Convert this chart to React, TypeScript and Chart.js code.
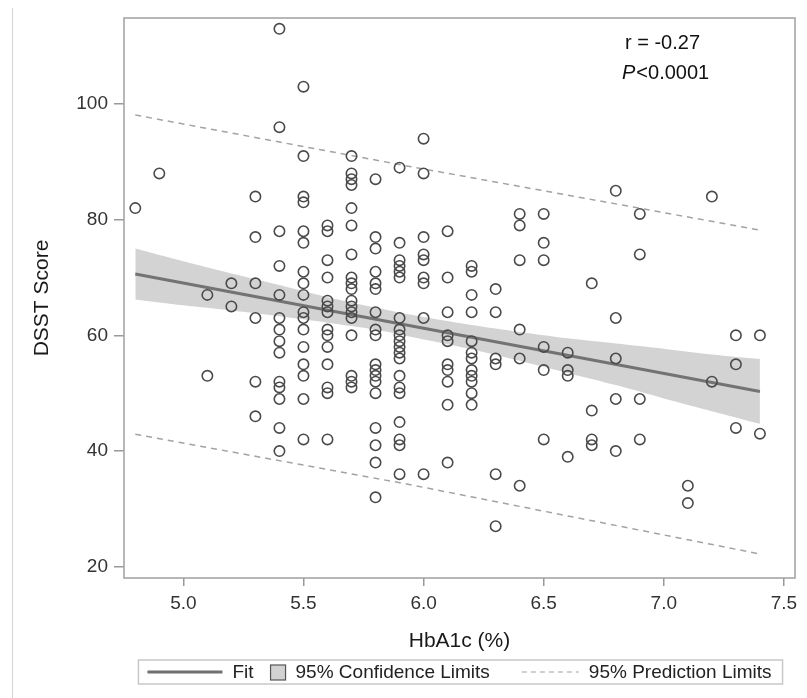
import React, { useEffect, useRef } from "react";
import { Chart, registerables } from "chart.js";

Chart.register(...registerables);

// ---- Data ----
const HBA1C_LEVELS = [4.8, 4.9, 5.1, 5.2, 5.3, 5.4, 5.5, 5.6, 5.7, 5.8, 5.9, 6.0, 6.1, 6.2, 6.3, 6.4, 6.5, 6.6, 6.7, 6.8, 6.9, 7.1, 7.2, 7.3, 7.4];
const DSST_SCORES_BY_LEVEL = [
  [82],
  [88],
  [67, 53],
  [69, 65],
  [84, 77, 69, 63, 52, 46],
  [113, 96, 78, 72, 67, 63, 61, 59, 57, 52, 51, 49, 44, 40],
  [103, 91, 84, 83, 78, 76, 71, 69, 67, 64, 63, 61, 58, 55, 53, 49, 42],
  [79, 78, 73, 70, 66, 65, 64, 61, 60, 58, 55, 51, 50, 42],
  [91, 88, 87, 86, 82, 79, 74, 70, 69, 68, 66, 65, 64, 63, 60, 53, 52, 51],
  [87, 77, 75, 71, 69, 68, 64, 61, 60, 55, 54, 53, 52, 50, 44, 41, 38, 32],
  [89, 76, 73, 72, 71, 70, 63, 61, 60, 59, 58, 57, 56, 53, 51, 50, 45, 42, 41, 36],
  [94, 88, 77, 74, 73, 70, 69, 63, 36],
  [78, 70, 64, 60, 59, 55, 54, 52, 48, 38],
  [72, 71, 67, 64, 59, 57, 56, 54, 53, 52, 50, 48],
  [68, 64, 56, 55, 36, 27],
  [81, 79, 73, 61, 56, 34],
  [81, 76, 73, 58, 54, 42],
  [57, 54, 53, 39],
  [69, 47, 42, 41],
  [85, 63, 56, 49, 40],
  [81, 74, 49, 42],
  [34, 31],
  [84, 52],
  [60, 55, 44],
  [60, 43],
];

const FIT_X = [4.8, 7.4];
const FIT_Y = [70.6, 50.3];

const CI_X = [4.8, 5.0, 5.2, 5.4, 5.6, 5.8, 5.93, 6.2, 6.4, 6.6, 6.8, 7.0, 7.2, 7.4];
const CI_UPPER = [75.0, 72.8, 70.7, 68.7, 66.6, 64.8, 63.7, 61.8, 60.6, 59.5, 58.6, 57.7, 56.7, 55.9];
const CI_LOWER = [66.2, 65.2, 64.3, 63.3, 62.2, 61.0, 59.9, 57.6, 55.6, 53.5, 51.4, 49.1, 46.9, 44.7];

const PI_X = [4.8, 5.93, 7.4];
const PI_UPPER = [98.1, 89.3, 78.2];
const PI_LOWER = [42.9, 34.3, 22.2];

const X_TICKS = [5.0, 5.5, 6.0, 6.5, 7.0, 7.5];
const Y_TICKS = [20, 40, 60, 80, 100];

const X_TITLE = "HbA1c (%)";
const Y_TITLE = "DSST Score";
const STAT_R = "r = -0.27";
const STAT_P_LETTER = "P";
const STAT_P_REST = "<0.0001";
const LEGEND_FIT = "Fit";
const LEGEND_CI = "95% Confidence Limits";
const LEGEND_PI = "95% Prediction Limits";

const FONT = '"Liberation Sans", Arial, Helvetica, sans-serif';

const pairs = (xs: number[], ys: number[]) => xs.map((x, i) => ({ x, y: ys[i] }));

const scatterPoints = HBA1C_LEVELS.flatMap((x, i) =>
  DSST_SCORES_BY_LEVEL[i].map((y) => ({ x, y }))
);

const framePlugin = {
  id: "frame",
  afterDraw(chart: any) {
    const { ctx, chartArea: a } = chart;
    ctx.save();
    ctx.strokeStyle = "#a6a6a6";
    ctx.lineWidth = 1.6;
    ctx.strokeRect(a.left, a.top, a.right - a.left, a.bottom - a.top);
    ctx.restore();
  },
};

const statsPlugin = {
  id: "stats",
  afterDraw(chart: any) {
    const { ctx, chartArea: a } = chart;
    ctx.save();
    ctx.fillStyle = "#111";
    ctx.textBaseline = "middle";
    ctx.textAlign = "left";
    ctx.font = `20px ${FONT}`;
    ctx.fillText(STAT_R, a.right - 170, a.top + 25);
    ctx.font = `italic 20px ${FONT}`;
    const px = a.right - 173;
    ctx.fillText(STAT_P_LETTER, px, a.top + 55);
    const w = ctx.measureText(STAT_P_LETTER).width;
    ctx.font = `20px ${FONT}`;
    ctx.fillText(STAT_P_REST, px + w + 1, a.top + 55);
    ctx.restore();
  },
};

const legendPlugin = {
  id: "customLegend",
  afterDraw(chart: any) {
    const { ctx, chartArea: a } = chart;
    const cy = a.bottom + 94;
    ctx.save();
    ctx.font = `19px ${FONT}`;
    ctx.textBaseline = "middle";
    ctx.textAlign = "left";
    const wFit = ctx.measureText(LEGEND_FIT).width;
    const wCi = ctx.measureText(LEGEND_CI).width;
    const wPi = ctx.measureText(LEGEND_PI).width;
    const total = 75 + 10 + wFit + 17 + 15 + 10 + wCi + 32 + 57 + 10 + wPi;
    let x = (a.left + a.right) / 2 - total / 2;
    const boxL = x - 9;
    const boxR = x + total + 11;
    // box
    ctx.strokeStyle = "#c8c8c8";
    ctx.lineWidth = 1.5;
    ctx.strokeRect(boxL, cy - 12, boxR - boxL, 24);
    // fit line
    ctx.strokeStyle = "#707070";
    ctx.lineWidth = 3;
    ctx.beginPath();
    ctx.moveTo(x, cy);
    ctx.lineTo(x + 75, cy);
    ctx.stroke();
    x += 85;
    ctx.fillStyle = "#222";
    ctx.fillText(LEGEND_FIT, x, cy + 1);
    x += wFit + 17;
    // CI square
    ctx.fillStyle = "#d2d2d2";
    ctx.fillRect(x, cy - 7, 15, 15);
    ctx.strokeStyle = "#555";
    ctx.lineWidth = 1.2;
    ctx.strokeRect(x, cy - 7, 15, 15);
    x += 25;
    ctx.fillStyle = "#222";
    ctx.fillText(LEGEND_CI, x, cy + 1);
    x += wCi + 32;
    // PI dashed
    ctx.strokeStyle = "#a0a0a0";
    ctx.lineWidth = 1.2;
    ctx.setLineDash([5, 4]);
    ctx.beginPath();
    ctx.moveTo(x, cy);
    ctx.lineTo(x + 57, cy);
    ctx.stroke();
    ctx.setLineDash([]);
    x += 67;
    ctx.fillStyle = "#222";
    ctx.fillText(LEGEND_PI, x, cy + 1);
    ctx.restore();
  },
};

export default function App() {
  const canvasRef = useRef<HTMLCanvasElement | null>(null);

  useEffect(() => {
    const canvas = canvasRef.current;
    if (!canvas) return;
    Chart.defaults.font.family = FONT;

    const chart = new Chart(canvas, {
      type: "scatter",
      data: {
        datasets: [
          {
            label: "Observations",
            data: scatterPoints,
            showLine: false,
            pointStyle: "circle",
            pointRadius: 5.2,
            pointHoverRadius: 5.2,
            pointBorderWidth: 1.6,
            pointBorderColor: "#4a4a4a",
            pointBackgroundColor: "rgba(0,0,0,0)",
            borderColor: "#4a4a4a",
            backgroundColor: "rgba(0,0,0,0)",
          },
          {
            label: LEGEND_FIT,
            data: pairs(FIT_X, FIT_Y),
            showLine: true,
            borderColor: "#737373",
            borderWidth: 3,
            pointRadius: 0,
            fill: false,
          },
          {
            label: "PI upper",
            data: pairs(PI_X, PI_UPPER),
            showLine: true,
            borderColor: "#a3a3a3",
            borderWidth: 1.5,
            borderDash: [6, 5],
            pointRadius: 0,
            fill: false,
          },
          {
            label: "PI lower",
            data: pairs(PI_X, PI_LOWER),
            showLine: true,
            borderColor: "#a3a3a3",
            borderWidth: 1.5,
            borderDash: [6, 5],
            pointRadius: 0,
            fill: false,
          },
          {
            label: "CI upper",
            data: pairs(CI_X, CI_UPPER),
            showLine: true,
            borderWidth: 0,
            borderColor: "rgba(0,0,0,0)",
            backgroundColor: "#d3d3d3",
            pointRadius: 0,
            tension: 0.3,
            fill: "+1",
          },
          {
            label: "CI lower",
            data: pairs(CI_X, CI_LOWER),
            showLine: true,
            borderWidth: 0,
            borderColor: "rgba(0,0,0,0)",
            backgroundColor: "#d3d3d3",
            pointRadius: 0,
            tension: 0.3,
            fill: false,
          },
        ],
      },
      options: {
        responsive: false,
        animation: false,
        devicePixelRatio: 1,
        layout: { padding: { left: 0, top: 18, right: 12, bottom: 40 } },
        plugins: {
          legend: { display: false },
          tooltip: { enabled: false },
          title: { display: false },
        },
        scales: {
          x: {
            type: "linear",
            min: 4.753,
            max: 7.546,
            afterBuildTicks: (s: any) => {
              s.ticks = X_TICKS.map((v) => ({ value: v }));
            },
            afterFit: (s: any) => {
              s.height = 80;
            },
            grid: {
              display: true,
              drawOnChartArea: false,
              drawTicks: true,
              tickLength: 8,
              color: "#999",
              lineWidth: 1.5,
            },
            border: { display: false },
            ticks: {
              autoSkip: false,
              maxRotation: 0,
              padding: 6,
              color: "#333",
              font: { size: 19, family: FONT },
              callback: (v: any) => Number(v).toFixed(1),
            },
            title: {
              display: true,
              text: X_TITLE,
              color: "#1a1a1a",
              font: { size: 21, family: FONT },
              padding: { top: 0, bottom: 4 },
            },
          },
          y: {
            type: "linear",
            min: 18.05,
            max: 114.87,
            afterBuildTicks: (s: any) => {
              s.ticks = Y_TICKS.map((v) => ({ value: v }));
            },
            afterFit: (s: any) => {
              s.width = 124;
            },
            grid: {
              display: true,
              drawOnChartArea: false,
              drawTicks: true,
              tickLength: 10,
              color: "#999",
              lineWidth: 1.5,
            },
            border: { display: false },
            ticks: {
              autoSkip: false,
              padding: 6,
              color: "#333",
              font: { size: 19, family: FONT },
              callback: (v: any) => String(v),
            },
            title: {
              display: true,
              text: Y_TITLE,
              color: "#1a1a1a",
              font: { size: 21, family: FONT },
              padding: { top: 30, bottom: 0 },
            },
          },
        },
      },
      plugins: [framePlugin, statsPlugin, legendPlugin],
    } as any);

    return () => chart.destroy();
  }, []);

  return (
    <div
      style={{
        position: "fixed",
        left: 0,
        top: 0,
        width: 807,
        height: 698,
        background: "#fff",
      }}
    >
      <div
        style={{
          position: "absolute",
          left: 12,
          top: 8,
          width: 1,
          height: 690,
          background: "#d4d4d4",
        }}
      />
      <canvas
        ref={canvasRef}
        width={807}
        height={698}
        style={{ position: "absolute", left: 0, top: 0, width: 807, height: 698 }}
      />
    </div>
  );
}
